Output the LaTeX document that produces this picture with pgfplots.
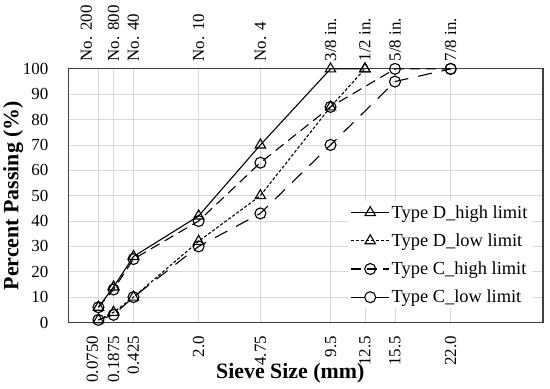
\documentclass[border=0pt]{standalone}
\usepackage{fontspec}
\setmainfont{Liberation Serif}
\usepackage{pgfplots}
\pgfplotsset{compat=1.18}
\usepackage{pgfplotstable}

\pgfplotstableread{
d v
0.075 6
0.1875 14
0.425 26
2.0 42
4.75 70
9.5 100
12.5 100
}\DHigh
\pgfplotstableread{
d v
0.075 1
0.1875 4
0.425 10
2.0 32
4.75 50
9.5 85
12.5 100
}\DLow
\pgfplotstableread{
d v
0.075 6
0.1875 13
0.425 25
2.0 40
4.75 63
9.5 85
15.5 100
22.0 100
}\CHigh
\pgfplotstableread{
d v
0.075 1
0.1875 3
0.425 10
2.0 30
4.75 43
9.5 70
15.5 95
22.0 100
}\CLow

\begin{document}
\begin{tikzpicture}
\pgfplotsset{
  common/.style={
    scale only axis, width=475bp, height=254bp,
    xmin=0, xmax=4.99, ymin=0, ymax=100,
    xtick={0.31172,0.47081,0.68041,1.36604,2.01612,2.75406,3.11604,3.43284,4.01895},
    major tick length=0pt,
    tick label style={font=\fontsize{17}{20}\selectfont},
    /pgf/number format/assume math mode=true,
  }
}
\begin{axis}[
  common,
  name=main,
  clip=false,
  xticklabels={\raisebox{6bp}[\height][\depth]{0.0750},0.1875,0.425,2.0,4.75,9.5,12.5,15.5,22.0},
  ytick={0,10,...,100},
  xmajorgrids, ymajorgrids,
  grid style={draw=black!15, line width=0.8bp},
  axis line style={draw=black!75, line width=1.1bp},
  xticklabel style={rotate=90, anchor=east},
  xticklabel shift=10bp,
  yticklabel shift=17bp,
  xlabel={Sieve Size (mm)},
  ylabel={Percent Passing (\%)},
  xlabel style={font=\bfseries\fontsize{22}{26}\selectfont, at={(axis description cs:0.467,-0.2)}, anchor=center},
  ylabel style={font=\bfseries\fontsize{22}{26}\selectfont, at={(axis description cs:-0.117,0.5)}, anchor=center},
  legend cell align=left,
  legend style={at={(rel axis cs:0.978,0.478)}, anchor=north east, draw=none, fill=white,
    font=\fontsize{18.5}{21}\selectfont, row sep=10bp},
  legend image code/.code={\draw[#1, mark repeat=2, mark phase=2] plot coordinates {(0bp,0bp)(19bp,0bp)(38bp,0bp)};},
]
\addplot[black, line width=1.1bp, mark=triangle, mark size=6bp, mark options={solid}]
  table[x expr=\thisrow{d}^0.45, y=v]{\DHigh};
\addlegendentry{Type D\_high limit}
\addplot[black, line width=1.1bp, dash pattern=on 3bp off 2bp, mark=triangle, mark size=6bp, mark options={solid}]
  table[x expr=\thisrow{d}^0.45, y=v]{\DLow};
\addlegendentry{Type D\_low limit}
\addplot[black, line width=1.1bp, dash pattern=on 10bp off 6bp, mark=o, mark size=5.5bp, mark options={solid}]
  table[x expr=\thisrow{d}^0.45, y=v]{\CHigh};
\addlegendentry{Type C\_high limit}
\addplot[black, line width=1.1bp, dash pattern=on 14bp off 10bp, mark=o, mark size=5.5bp, mark options={solid}]
  table[x expr=\thisrow{d}^0.45, y=v]{\CLow};
\addlegendentry{Type C\_low limit}
\end{axis}
\begin{axis}[
  common,
  axis x line*=top,
  axis y line=none,
  axis line style={draw=none},
  xticklabels={\raisebox{12bp}[\height][\depth]{No. 200},No. 800,No. 40,No. 10,No. 4,3/8 in.,1/2 in.,5/8 in.,7/8 in.},
  xticklabel style={rotate=90, anchor=west},
  xticklabel shift=4bp,
]
\end{axis}
\path ([shift={(-68bp,-66bp)}]main.south west) rectangle ([shift={(7bp,69bp)}]main.north east);
\end{tikzpicture}
\end{document}
